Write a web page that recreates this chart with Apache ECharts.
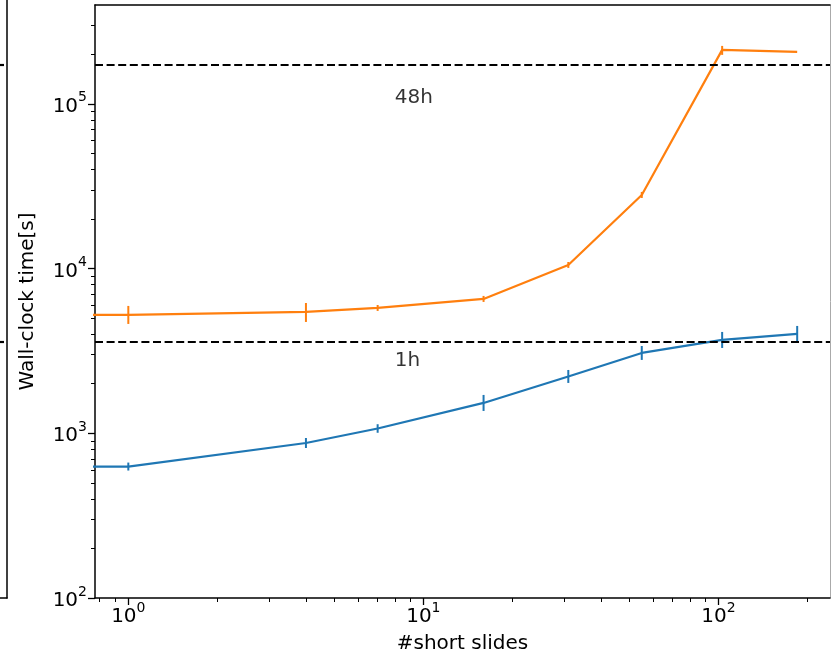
<!DOCTYPE html>
<html><head><meta charset="utf-8">
<script src="https://cdn.jsdelivr.net/npm/echarts@6/dist/echarts.min.js"></script>
<style>html,body{margin:0;padding:0;background:#fff}#c{width:832px;height:661px}</style>
</head><body><div id="c"></div>
<script>
// ---- data (x = 0 is drawn like matplotlib's log "clip": far to the left) ----
const slides = [0, 1, 4, 7, 16, 31, 55, 103, 185];
const blueTime = [628, 628, 873, 1069, 1528, 2213, 3073, 3686, 4008];
const blueLow  = [628, 594, 814, 1007, 1366, 2021, 2788, 3295, 3584];
const blueHigh = [628, 664, 936, 1135, 1709, 2423, 3388, 4122, 4483];
const orangeTime = [5228, 5228, 5450, 5766, 6538, 10517, 27980, 212500, 206600];
const orangeLow  = [5228, 4610, 4740, 5530, 6270, 10090, 26820, 198200, 206600];
const orangeHigh = [5228, 5930, 6180, 6010, 6820, 10960, 29180, 224700, 206600];
const refValues = [3600, 172800];
const refLabels = ['1h', '48h'];
const refLabelX = [8, 8];
const refLabelY = [2520, 100000];
const xMajor = [1, 10, 100];
const xMinor = [0.8, 0.9, 2, 3, 4, 5, 6, 7, 8, 9, 20, 30, 40, 50, 60, 70, 80, 90, 200];
const yMajor = [100, 1000, 10000, 100000];
const yMinor = [200,300,400,500,600,700,800,900,2000,3000,4000,5000,6000,7000,8000,9000,
                20000,30000,40000,50000,60000,70000,80000,90000,200000,300000];
const xMin = 0.771, xMax = 239, yMin = 100, yMax = 398000;

const FONT = 'DejaVu Sans';
const BLUE = '#1f77b4', ORANGE = '#ff7f0e';
const clipX = v => (v <= 0 ? 1e-3 : v);

const pts = (ys) => slides.map((s, i) => [clipX(s), ys[i]]);
const errs = (lo, hi) => slides.map((s, i) => [s, lo[i], hi[i]]).filter(r => r[0] > 0 && r[1] !== r[2]);

const supFmt = v => '{b|10}{s|' + Math.round(Math.log10(v)) + '}';
const rich = {
  b: {fontSize: 20, fontFamily: FONT, color: '#000', lineHeight: 26, verticalAlign: 'bottom'},
  s: {fontSize: 14, fontFamily: FONT, color: '#000', lineHeight: 14, verticalAlign: 'top'}
};
const axisBlack = {onZero: false, lineStyle: {color: '#000', width: 1.5}};

function errSeries(lo, hi, color) {
  return {
    type: 'custom', xAxisIndex: 0, yAxisIndex: 0, z: 3,
    data: errs(lo, hi),
    renderItem: function (params, api) {
      const a = api.coord([api.value(0), api.value(1)]);
      const b = api.coord([api.value(0), api.value(2)]);
      return {type: 'line', shape: {x1: a[0], y1: a[1], x2: b[0], y2: b[1]},
              style: {stroke: color, lineWidth: 2}};
    }
  };
}

const option = {
  animation: false,
  backgroundColor: '#fff',
  grid: [
    {left: 95, right: 2, top: 5, bottom: 63, outerBoundsMode: 'none'},
    {left: 0, width: 7, top: 0, bottom: 63, outerBoundsMode: 'none'}
  ],
  xAxis: [
    {gridIndex: 0, type: 'log', logBase: 10, min: xMin, max: xMax, position: 'bottom',
     axisLine: axisBlack,
     axisTick: {customValues: xMajor, length: 7, lineStyle: {color: '#000', width: 1.3}},
     axisLabel: {customValues: xMajor, formatter: supFmt, rich: rich, margin: 3},
     splitLine: {show: false},
     name: '#short slides', nameLocation: 'middle', nameGap: 36,
     nameTextStyle: {fontSize: 20, fontFamily: FONT, color: '#000'}},
    {gridIndex: 0, type: 'log', logBase: 10, min: xMin, max: xMax, position: 'bottom',
     axisLine: {show: false, onZero: false},
     axisTick: {customValues: xMinor, length: 4, lineStyle: {color: '#000', width: 1}},
     axisLabel: {show: false}, splitLine: {show: false}},
    {gridIndex: 0, type: 'log', logBase: 10, min: xMin, max: xMax, position: 'top',
     axisLine: axisBlack, axisTick: {show: false}, axisLabel: {show: false}, splitLine: {show: false}},
    {gridIndex: 1, type: 'value', min: 0, max: 1, position: 'bottom',
     axisLine: axisBlack, axisTick: {show: false}, axisLabel: {show: false}, splitLine: {show: false}}
  ],
  yAxis: [
    {gridIndex: 0, type: 'log', logBase: 10, min: yMin, max: yMax, position: 'left',
     axisLine: axisBlack,
     axisTick: {customValues: yMajor, length: 7, lineStyle: {color: '#000', width: 1.3}},
     axisLabel: {customValues: yMajor, formatter: supFmt, rich: rich, margin: 8},
     splitLine: {show: false},
     name: 'Wall-clock time[s]', nameLocation: 'middle', nameGap: 57,
     nameTextStyle: {fontSize: 20, fontFamily: FONT, color: '#000'}},
    {gridIndex: 0, type: 'log', logBase: 10, min: yMin, max: yMax, position: 'left',
     axisLine: {show: false, onZero: false},
     axisTick: {customValues: yMinor, length: 4, lineStyle: {color: '#000', width: 1}},
     axisLabel: {show: false}, splitLine: {show: false}},
    {gridIndex: 0, type: 'log', logBase: 10, min: yMin, max: yMax, position: 'right',
     axisLine: {onZero: false, lineStyle: {color: '#aaa', width: 1}}, axisTick: {show: false},
     axisLabel: {show: false}, splitLine: {show: false}},
    {gridIndex: 1, type: 'log', logBase: 10, min: yMin, max: 426900, position: 'right',
     axisLine: axisBlack, axisTick: {show: false}, axisLabel: {show: false}, splitLine: {show: false}}
  ],
  series: [
    {type: 'line', xAxisIndex: 0, yAxisIndex: 0, data: pts(blueTime), showSymbol: false,
     lineStyle: {color: BLUE, width: 2.2}, itemStyle: {color: BLUE}, z: 3, clip: true},
    {type: 'line', xAxisIndex: 0, yAxisIndex: 0, data: pts(orangeTime), showSymbol: false,
     lineStyle: {color: ORANGE, width: 2.2}, itemStyle: {color: ORANGE}, z: 3, clip: true},
    errSeries(blueLow, blueHigh, BLUE),
    errSeries(orangeLow, orangeHigh, ORANGE),
    {type: 'line', xAxisIndex: 0, yAxisIndex: 0, data: [], z: 4,
     markLine: {silent: true, symbol: 'none', label: {show: false},
       lineStyle: {color: '#000', width: 2.2, type: [8, 3.6]},
       data: refValues.map(v => ({yAxis: v}))}},
    {type: 'line', xAxisIndex: 3, yAxisIndex: 3, data: [], z: 4,
     markLine: {silent: true, symbol: 'none', label: {show: false},
       lineStyle: {color: '#000', width: 2.2, type: [4, 3.6]},
       data: refValues.map(v => ({yAxis: v}))}},
    {type: 'scatter', xAxisIndex: 0, yAxisIndex: 0, symbolSize: 0, z: 5,
     data: refLabels.map((t, i) => ({value: [refLabelX[i], refLabelY[i]], name: t})),
     label: {show: true, formatter: p => p.name, position: [0, 0], align: 'left',
             verticalAlign: 'bottom', offset: [0, 4],
             fontSize: 20, fontFamily: FONT, color: '#000'}}
  ]
};
const chart = echarts.init(document.getElementById('c'), null, {renderer: 'canvas'});
chart.setOption(option);
</script></body></html>
